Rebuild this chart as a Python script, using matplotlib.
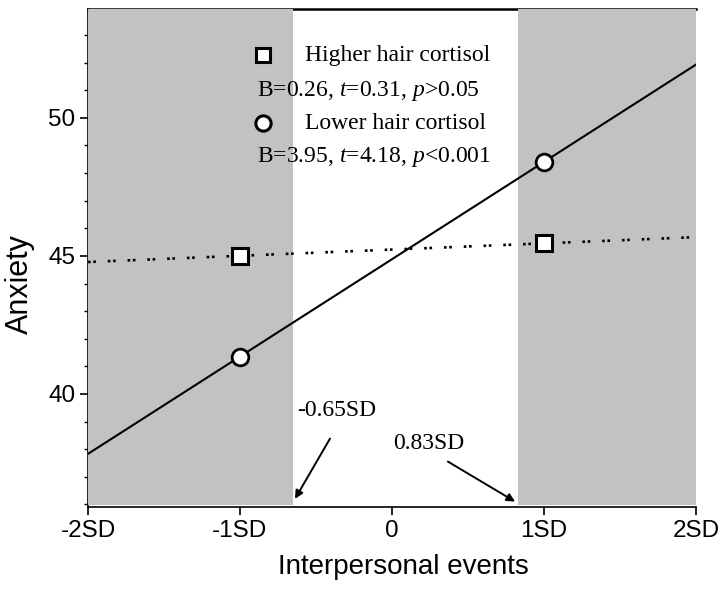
import matplotlib
matplotlib.use("Agg")
import matplotlib.pyplot as plt
from matplotlib.ticker import MultipleLocator

# x positions in SD units
x_points = [-1, 1]
x_line = [-2, 2]
x_ticks = [-2, -1, 0, 1, 2]
x_ticklabels = ["-2SD", "-1SD", "0", "1SD", "2SD"]

# simple slopes
higher_pts = [45.0, 45.45]
higher_line = [44.78, 45.68]
lower_pts = [41.35, 48.4]
lower_line = [37.83, 51.93]

# regions of significance (Johnson-Neyman points)
jn_low = -0.65
jn_high = 0.83

plt.rcParams["mathtext.fontset"] = "custom"
plt.rcParams["mathtext.rm"] = "Liberation Serif"
plt.rcParams["mathtext.it"] = "Liberation Serif:italic"

fig = plt.figure(figsize=(7.22, 5.89), dpi=100)
ax = fig.add_axes([0.1219, 0.139, 0.842, 0.846])

ax.set_xlim(-2, 2)
ax.set_ylim(35.9, 53.95)

gray = "#c2c2c2"
ax.axvspan(-2, jn_low, ymin=0.004, color=gray, lw=0, zorder=3)
ax.axvspan(jn_high, 2, ymin=0.004, color=gray, lw=0, zorder=3)

ax.plot(x_line, lower_line, color="black", lw=1.5, zorder=4)
ax.plot(x_line, higher_line, color="black", lw=1.9, ls=(0, (1, 1, 1, 4.5)), zorder=4)
ax.plot(x_points, lower_pts, "o", ms=12, mfc="white", mec="black", mew=2, zorder=5)
ax.plot(x_points, higher_pts, "s", ms=11.5, mfc="white", mec="black", mew=2.2, zorder=5)

ax.spines["right"].set_visible(False)
ax.spines["top"].set_linewidth(1.8)
ax.spines["left"].set_linewidth(1.2)
ax.spines["bottom"].set_linewidth(1.2)

ax.set_xticks(x_ticks)
ax.set_xticklabels(x_ticklabels)
ax.yaxis.set_major_locator(MultipleLocator(5))
ax.yaxis.set_minor_locator(MultipleLocator(1))
ax.tick_params(axis="both", which="major", direction="out", length=6, width=1.2,
               labelsize=17.5, pad=3)
ax.tick_params(axis="y", which="minor", direction="out", length=3, width=1)
for lab in ax.get_xticklabels() + ax.get_yticklabels():
    lab.set_family("Liberation Sans")

ax.set_xlabel("Interpersonal events", fontsize=20, family="Liberation Sans")
ax.xaxis.set_label_coords(0.518, -0.095)
ax.set_ylabel("Anxiety", fontsize=22, family="Liberation Sans")
ax.yaxis.set_label_coords(-0.088, 0.448)

# legend-like block
serif = "Liberation Serif"
fs = 17
ax.plot([-0.85], [52.27], "s", ms=10.5, mfc="white", mec="black", mew=2.2, zorder=6)
ax.text(-0.57, 52.27, "Higher hair cortisol", fontsize=fs, family=serif,
        va="center", zorder=6)
ax.text(-0.89, 50.98, "B=0.26, $t$=0.31, $p$>0.05", fontsize=fs, family=serif,
        va="center", zorder=6)
ax.plot([-0.85], [49.8], "o", ms=11, mfc="white", mec="black", mew=2.2, zorder=6)
ax.text(-0.57, 49.8, "Lower hair cortisol", fontsize=fs, family=serif,
        va="center", zorder=6)
ax.text(-0.89, 48.58, "B=3.95, $t$=4.18, $p$<0.001", fontsize=fs, family=serif,
        va="center", zorder=6)

# Johnson-Neyman labels and arrows
ax.text(-0.625, 39.39, "-0.65SD", fontsize=fs, family=serif, va="center", zorder=6)
ax.text(0.007, 38.2, "0.83SD", fontsize=fs, family=serif, va="center", zorder=6)
arrow = dict(arrowstyle="-|>", color="black", lw=1.4, shrinkA=0, shrinkB=0,
             mutation_scale=12)
ax.annotate("", xy=(-0.638, 36.2), xytext=(-0.408, 38.38), arrowprops=arrow, zorder=6)
ax.annotate("", xy=(0.81, 36.1), xytext=(0.368, 37.55), arrowprops=arrow, zorder=6)

fig.savefig("out.png", dpi=100)
